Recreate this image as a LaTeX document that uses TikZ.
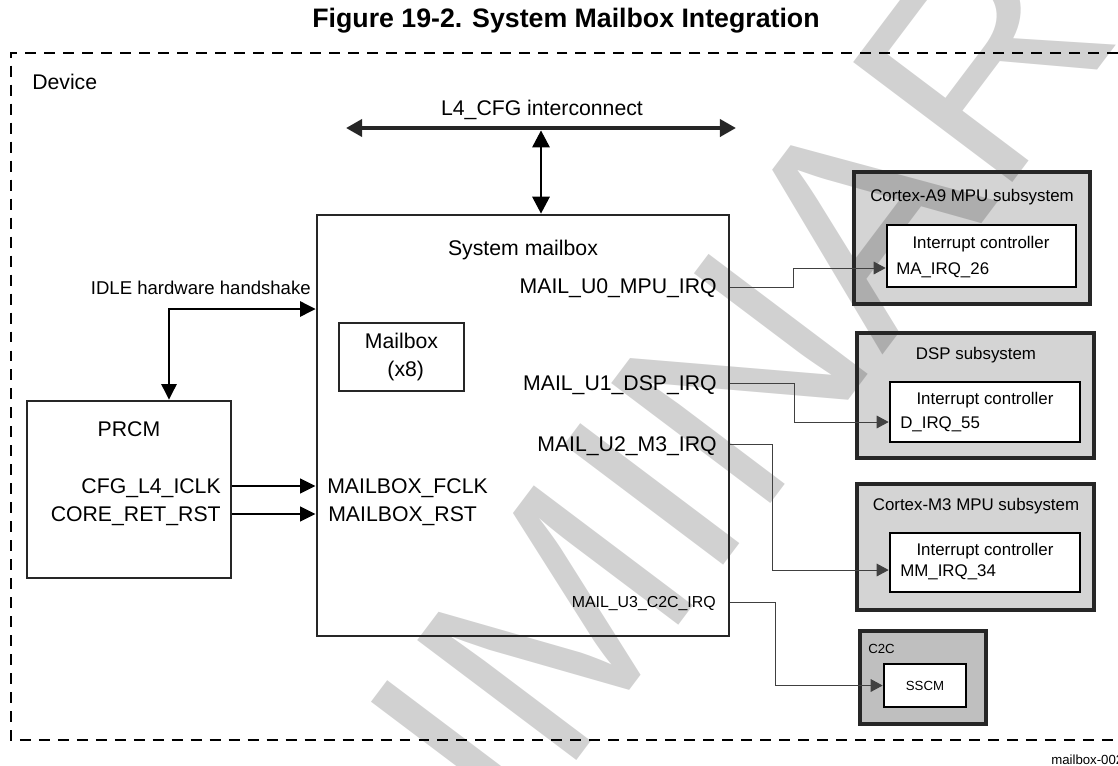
\documentclass[tikz,border=0pt]{standalone}
\usepackage{fontspec}
\setmainfont{Liberation Sans}
\usetikzlibrary{arrows.meta,positioning}

\begin{document}
\begin{tikzpicture}[
      x=0.025cm, y=-0.025cm,   % one unit = one pixel of the sketch
      px size/.style 2 args={minimum width=#1*0.025cm, minimum height=#2*0.025cm},
      sig/.style={inner sep=0pt, font=\fontsize{15.1}{18}\selectfont, text height=10.8pt, text depth=0pt},
      sublbl/.style={inner sep=0pt, font=\fontsize{12}{14}\selectfont, text height=8.6pt, text depth=0pt},
      tinylbl/.style={inner sep=0pt, font=\fontsize{9.4}{11}\selectfont, text height=6.7pt, text depth=0pt},
      block/.style={draw=black!85, line width=2.1pt, inner sep=0pt},
      subsys/.style={draw=black!85, line width=2.3pt, fill=black, fill opacity=0.17, inner sep=0pt},
      ctrl/.style={draw=black, line width=1.9pt, fill=white, inner sep=0pt},
      devframe/.style={line width=1.4pt, dash pattern=on 7.8pt off 5.7pt},
      bus/.style={line width=2.8pt, draw=black!85, {Triangle[length=11.4pt,width=12pt]}-{Triangle[length=11.4pt,width=12pt]}},
      tapline/.style={line width=0.9pt, {Triangle[length=12pt,width=12.5pt]}-{Triangle[length=12pt,width=12.5pt]}},
      hs/.style={line width=0.9pt, {Triangle[length=11pt,width=11pt]}-{Triangle[length=11pt,width=11pt]}},
      clkarrow/.style={line width=1.4pt, -{Triangle[length=11pt,width=10.5pt]}},
      irq/.style={draw=black!75, line width=0.7pt, -{Triangle[length=8.5pt,width=9pt]}}
  ]
      \useasboundingbox (0,0) rectangle (1118,765);

      % Watermark
      \node (wmark) [anchor=base, rotate=53, text=black!18, inner sep=0pt,
          font=\fontsize{206}{206}\selectfont] at (648,666) {PRELIMINARY};

      % Title and device frame
      \node (title) [font=\fontsize{19}{22}\selectfont\bfseries] at (566,21) {Figure 19-2. System Mailbox Integration};
      \coordinate (devTL) at (10.7,53);
      \coordinate (devBL) at (10.7,740);
      \draw [devframe] (1118,53) -- (devTL) -- (devBL) -- (1118,740);
      \node (device) [sig, anchor=west] at (32,82) {Device};

      % System mailbox
      \node (mbox) [block, px size={412}{421}] at (523,425.5) {};
      \node (mboxlbl) [sig] at (523,248) {System mailbox};
      \node (mb8) [block, px size={125}{68}, align=center, font=\fontsize{15.1}{20.6}\selectfont] at (401.5,357) {Mailbox\\\hspace*{0.4em}(x8)};
      \node (u0lbl) [sig, anchor=east] at (717,286) {MAIL\_U0\_MPU\_IRQ};
      \node (u1lbl) [sig, anchor=east] at (717,383) {MAIL\_U1\_DSP\_IRQ};
      \node (u2lbl) [sig, anchor=east] at (717,444) {MAIL\_U2\_M3\_IRQ};
      \node (u3lbl) [inner sep=0pt, font=\fontsize{11.3}{13}\selectfont, text height=8.1pt, text depth=0pt, anchor=east] at (716,602) {MAIL\_U3\_C2C\_IRQ};
      \node (fclk) [sig, anchor=west] at (327,486) {MAILBOX\_FCLK};
      \node (mrst) [sig, anchor=west] at (328,514) {MAILBOX\_RST};

      % L4 interconnect
      \node (l4lbl) [sig] at (542,108) {L4\_CFG interconnect};
      \coordinate (busW) at (346,128);
      \coordinate (busE) at (736,128);
      \coordinate (tap) at (541,130.5);
      \draw [bus] (busW) -- (busE);
      \draw [tapline] (tap) -- (tap |- mbox.north);

      % PRCM
      \node (prcm) [block, px size={204}{177}] at (129,489.5) {};
      \node (prcmlbl) [sig] at (129,429) {PRCM};
      \node (iclk) [sig, anchor=east] at (221,486) {CFG\_L4\_ICLK};
      \node (rst) [sig, anchor=east] at (221,514) {CORE\_RET\_RST};
      \draw [clkarrow] (prcm.east |- iclk) -- (mbox.west |- iclk);
      \draw [clkarrow] (prcm.east |- rst) -- (mbox.west |- rst);

      % IDLE handshake
      \node (idle) [inner sep=0pt, font=\fontsize{13.2}{15}\selectfont, text height=9.45pt, text depth=0pt, anchor=east] at (311,288) {IDLE hardware handshake};
      \coordinate (hsbend) at (169,309);
      \draw [hs] (prcm.north -| hsbend) -- (hsbend) -- (mbox.west |- hsbend);

      % Subsystems
      \node (a9) [subsys, px size={236}{132}] at (972,238) {};
      \node (a9lbl) [sublbl] at (972,195) {Cortex-A9 MPU subsystem};
      \node (a9ic) [ctrl, px size={189}{62}] at (981.5,256) {};
      \node (a9iclbl) [sublbl] at (981,242) {Interrupt controller};
      \node (ma26) [sublbl, anchor=west] at (896,268) {MA\_IRQ\_26};

      \node (dsp) [subsys, px size={237}{125}] at (975.5,395.5) {};
      \node (dsplbl) [sublbl] at (976,353) {DSP subsystem};
      \node (dspic) [ctrl, px size={190}{60}] at (985,412) {};
      \node (dspiclbl) [sublbl] at (985,398) {Interrupt controller};
      \node (d55) [sublbl, anchor=west] at (900,422) {D\_IRQ\_55};

      \node (m3) [subsys, px size={237}{126}] at (975.5,547) {};
      \node (m3lbl) [sublbl] at (976,504) {Cortex-M3 MPU subsystem};
      \node (m3ic) [ctrl, px size={190}{59}] at (985,562.5) {};
      \node (m3iclbl) [sublbl] at (985,549) {Interrupt controller};
      \node (mm34) [sublbl, anchor=west] at (900,570) {MM\_IRQ\_34};

      \node (c2c) [subsys, fill opacity=0.25, px size={126}{93}] at (923,677.5) {};
      \node (c2clbl) [tinylbl, anchor=west] at (868,649) {C2C};
      \node (sscm) [ctrl, px size={82}{43}, font=\fontsize{9.4}{11}\selectfont] at (925,685.5) {SSCM};

      \node (figid) [tinylbl, anchor=west] at (1051,760) {mailbox-002};

      % Interrupt lines
      \draw [irq] (mbox.east |- 0,287) -- (793,287) |- (a9ic.west |- ma26);
      \draw [irq] (mbox.east |- u1lbl) -- (794,383) |- (dspic.west |- d55);
      \draw [irq] (mbox.east |- u2lbl) -- (772,444) |- (m3ic.west |- mm34);
      \draw [irq] (mbox.east |- u3lbl) -- (775,602) |- (sscm.west);
  \end{tikzpicture}
\end{document}
